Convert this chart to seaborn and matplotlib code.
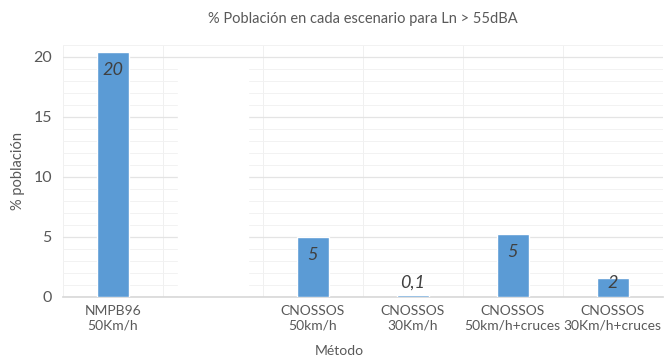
import numpy as np
import pandas as pd
import matplotlib
matplotlib.use("Agg")
import matplotlib.pyplot as plt
from matplotlib.ticker import MultipleLocator, FixedLocator
import seaborn as sns

# data (second category was blanked out in the source)
metodos = ["NMPB96\n50Km/h", " ", "CNOSSOS\n50km/h", "CNOSSOS\n30Km/h",
           "CNOSSOS\n50km/h+cruces", "CNOSSOS\n30Km/h+cruces"]
poblacion = [20.4, np.nan, 5.0, 0.15, 5.25, 1.6]
etiquetas = ["20", "", "5", "0,1", "5", "2"]

sns.set_theme(style="white")
plt.rcParams["font.family"] = ["Lato", "DejaVu Sans"]
gris = "#595959"

df = pd.DataFrame({"metodo": metodos, "poblacion": poblacion})

fig = plt.figure(figsize=(6.7, 3.6), dpi=100)
ax = fig.add_axes([0.094, 0.175, 0.895, 0.70])

sns.barplot(data=df, x="metodo", y="poblacion", color="#5b9bd5", width=0.32,
            saturation=1, ax=ax, zorder=3)

ax.set_ylim(0, 21)
ax.set_xlim(-0.5, len(metodos) - 0.5)
ax.yaxis.set_major_locator(MultipleLocator(5))
ax.yaxis.set_minor_locator(MultipleLocator(1))
ax.xaxis.set_minor_locator(FixedLocator(np.arange(-0.5, len(metodos), 1)))
ax.grid(axis="y", which="major", color="#e4e4e4", lw=0.9, zorder=0)
ax.grid(axis="y", which="minor", color="#f2f2f2", lw=0.7, zorder=0)
ax.grid(axis="x", which="minor", color="#f0f0f0", lw=0.7, zorder=0)
ax.tick_params(which="both", length=0)
ax.tick_params(axis="y", labelsize=11.5, colors=gris, pad=8)
ax.tick_params(axis="x", labelsize=10, colors=gris, pad=6)

# the erased second category in the source
ax.axvspan(0.65, 1.35, ymin=0, ymax=0.92, color="white", zorder=2)

for s in ["top", "right", "left"]:
    ax.spines[s].set_visible(False)
ax.spines["bottom"].set_color("#d9d9d9")

for i, (v, t) in enumerate(zip(poblacion, etiquetas)):
    if t:
        ax.text(i, max(v - 1.5, 1.2), t, ha="center", va="center",
                fontsize=13, fontstyle="italic", color="#404040", zorder=4)

ax.set_title("% Población en cada escenario para Ln > 55dBA", fontsize=10.5,
             color=gris, pad=16)
ax.set_ylabel("% población", fontsize=10.5, color=gris, labelpad=6)
ax.set_xlabel("Método", fontsize=10, color=gris)
ax.xaxis.set_label_coords(0.46, -0.19)

fig.savefig("out.png", dpi=100)
